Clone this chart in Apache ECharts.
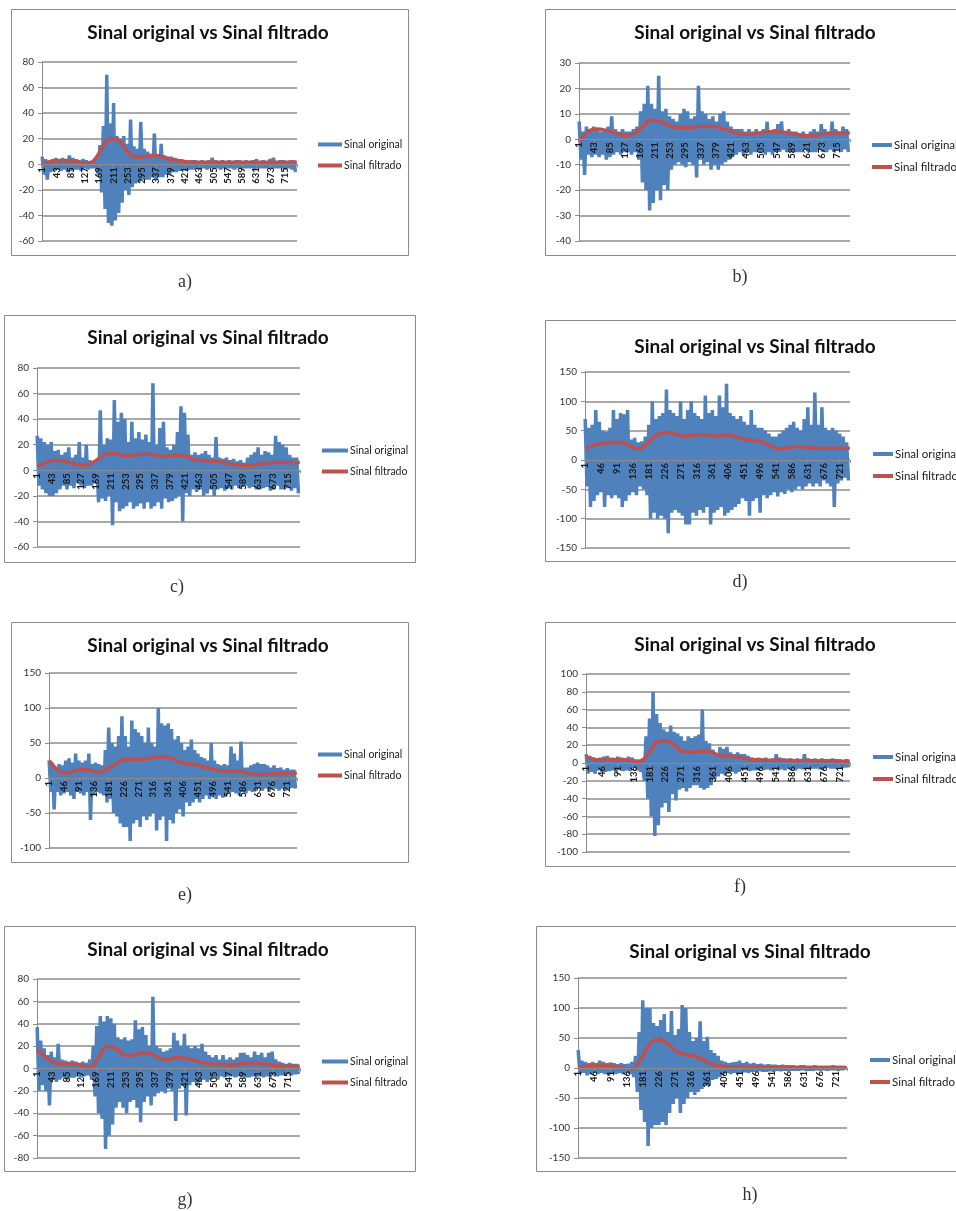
<!DOCTYPE html>
<html>
<head>
<meta charset="utf-8">
<title>Sinal original vs Sinal filtrado</title>
<script src="https://cdn.jsdelivr.net/npm/echarts/dist/echarts.min.js"></script>
<style>
  html, body { margin: 0; padding: 0; background: #ffffff; }
  #chart { width: 956px; height: 1211px; }
</style>
</head>
<body>
<div id="chart"></div>
<script>
// Sample numbers on the x axis (1..750) and the labels shown on it
const N_SAMPLES = 750;
const sampleNumbers = Array.from({ length: N_SAMPLES }, (_, i) => String(i + 1));
const ticksStep42 = [1, 43, 85, 127, 169, 211, 253, 295, 337, 379, 421, 463, 505, 547, 589, 631, 673, 715];
const ticksStep45 = [1, 46, 91, 136, 181, 226, 271, 316, 361, 406, 451, 496, 541, 586, 631, 676, 721];

// Raw signal: one reading every 5 samples
const ORIG_STEP = 5;
// Filtered signal: one reading every 25 samples
const FILT_STEP = 25;

const SERIES_ORIG = 'Sinal original';
const SERIES_FILT = 'Sinal filtrado';

// ---- a) ----
const origA = [
  6, -8, 4, -12, 3, -6, 4, -5, 5, -4,
  4, -5, 5, -4, 3, -6, 7, -5, 5, -4,
  4, -4, 3, -5, 4, -3, 3, -4, 2, -3,
  3, -3, 5, -8, 15, -22, 30, -35, 70, -46,
  32, -48, 48, -44, 22, -38, 20, -30, 22, -20,
  16, -24, 35, -18, 14, -15, 12, -14, 33, -12,
  12, -12, 10, -12, 8, -10, 24, -12, 8, -10,
  16, -10, 7, -8, 6, -8, 6, -6, 5, -6,
  4, -5, 4, -4, 3, -5, 3, -4, 3, -4,
  3, -3, 2, -4, 3, -3, 2, -4, 3, -3,
  5, -3, 3, -3, 2, -4, 3, -3, 2, -3,
  3, -3, 2, -4, 3, -3, 3, -3, 2, -3,
  3, -3, 2, -3, 3, -4, 4, -3, 2, -3,
  3, -3, 2, -3, 4, -3, 5, -3, 2, -3,
  3, -3, 3, -4, 2, -3, 3, -4, 3, -6
];
const filtA = [0, 2, 3, 3, 2.5, 1, 2.5, 12, 20, 19, 10, 5.5, 6, 7, 6, 4, 3, 2, 1.5, 1.5, 1.5, 1.5, 1.5, 1.5, 1.5, 1.5, 1.5, 1.5, 1.5, 1.5, 1.5];

// ---- b) ----
const origB = [
  7, -8, 3, -14, 5, -6, 4, -7, 5, -6,
  4, -7, 3, -6, 4, -8, 5, -7, 9, -6,
  4, -5, 3, -6, 4, -5, 3, -5, 3, -6,
  4, -5, 5, -8, 11, -17, 14, -20, 21, -28,
  14, -25, 12, -20, 25, -24, 11, -18, 12, -20,
  9, -12, 8, -10, 7, -9, 10, -10, 12, -11,
  11, -9, 8, -10, 9, -15, 21, -8, 11, -10,
  10, -9, 8, -12, 9, -10, 7, -12, 10, -10,
  11, -9, 7, -8, 5, -7, 4, -6, 4, -5,
  4, -6, 3, -5, 4, -6, 3, -5, 4, -5,
  3, -5, 4, -6, 7, -5, 3, -6, 4, -5,
  6, -5, 7, -4, 3, -5, 4, -5, 3, -5,
  3, -5, 2, -5, 3, -4, 2, -5, 3, -5,
  4, -5, 3, -4, 6, -5, 4, -5, 3, -4,
  7, -5, 4, -4, 3, -5, 5, -4, 4, -5
];
const filtB = [-1, 3, 4, 3.5, 2.5, 1.5, 2, 5, 7.5, 7, 5.5, 4.5, 4.5, 5, 5, 5, 4, 3, 2, 2, 2.5, 3, 3, 2.5, 2, 1.5, 1.5, 2, 2.5, 2.5, 2.5];

// ---- c) ----
const origC = [
  27, -12, 25, -15, 22, -18, 20, -20, 22, -20,
  15, -18, 16, -15, 12, -12, 14, -15, 18, -12,
  10, -14, 12, -10, 22, -12, 10, -14, 20, -12,
  8, -12, 7, -10, 8, -25, 47, -22, 20, -24,
  25, -20, 24, -43, 55, -25, 38, -32, 45, -30,
  40, -28, 22, -25, 38, -30, 25, -28, 30, -26,
  24, -30, 28, -25, 22, -30, 68, -28, 20, -25,
  33, -30, 38, -22, 18, -25, 16, -24, 20, -22,
  30, -20, 50, -40, 45, -18, 28, -20, 12, -15,
  14, -17, 12, -15, 13, -20, 15, -18, 12, -15,
  10, -20, 26, -15, 10, -14, 9, -16, 10, -14,
  8, -15, 9, -12, 7, -14, 8, -13, 6, -12,
  10, -14, 12, -13, 14, -15, 18, -15, 12, -14,
  15, -13, 14, -16, 12, -15, 27, -12, 22, -15,
  20, -15, 18, -14, 12, -16, 10, -14, 10, -18
];
const filtC = [3, 6, 8, 7, 5.5, 4, 5, 9, 13, 13, 11, 12, 12.5, 12.5, 11, 11, 12, 11, 8, 7.5, 7, 6.5, 5, 4, 4, 4.5, 5.5, 6, 6, 6, 6];

// ---- d) ----
const origD = [
  70, -45, 55, -80, 60, -70, 85, -60, 65, -55,
  50, -80, 48, -60, 55, -65, 85, -60, 70, -65,
  80, -80, 78, -70, 85, -60, 35, -55, 38, -60,
  30, -45, 32, -50, 40, -60, 60, -100, 100, -90,
  70, -100, 75, -95, 80, -100, 120, -125, 85, -90,
  80, -85, 75, -90, 100, -95, 70, -110, 85, -110,
  100, -90, 80, -95, 75, -85, 70, -90, 110, -80,
  80, -110, 85, -90, 75, -85, 110, -80, 90, -95,
  130, -90, 80, -85, 75, -80, 70, -75, 75, -65,
  65, -70, 60, -95, 85, -70, 60, -65, 55, -90,
  55, -60, 50, -65, 45, -60, 40, -55, 40, -62,
  45, -55, 50, -58, 55, -50, 60, -55, 65, -50,
  55, -45, 50, -50, 70, -45, 90, -40, 60, -45,
  115, -40, 60, -45, 90, -35, 55, -40, 50, -45,
  55, -80, 50, -40, 45, -35, 40, -30, 30, -35
];
const filtD = [20, 25, 29, 30, 30, 25, 19, 28, 42, 47, 45, 41, 42, 43, 43, 41, 43, 40, 35, 33, 31, 24, 19, 21, 23, 22, 20, 20, 20, 20, 20];

// ---- e) ----
const origE = [
  25, -20, 22, -45, 15, -20, 20, -25, 18, -22,
  25, -20, 28, -25, 22, -30, 35, -20, 25, -22,
  22, -25, 25, -20, 35, -60, 20, -25, 22, -20,
  20, -22, 18, -25, 40, -35, 72, -30, 50, -50,
  45, -55, 60, -65, 88, -70, 60, -70, 45, -90,
  82, -65, 70, -60, 65, -70, 60, -55, 50, -60,
  72, -55, 50, -50, 45, -75, 100, -60, 78, -55,
  75, -90, 78, -60, 70, -65, 55, -50, 60, -45,
  50, -55, 40, -35, 45, -40, 55, -35, 40, -30,
  35, -35, 30, -30, 28, -25, 25, -30, 50, -25,
  25, -30, 20, -25, 18, -28, 20, -25, 18, -22,
  45, -20, 35, -22, 25, -25, 52, -20, 15, -22,
  15, -18, 18, -20, 20, -18, 22, -15, 20, -18,
  20, -15, 18, -20, 15, -15, 18, -15, 14, -18,
  15, -15, 12, -18, 14, -15, 12, -14, 12, -15
];
const filtE = [25, 12, 7, 10, 12, 11, 8, 13, 20, 26, 27, 26, 28, 30, 30, 27, 22, 20, 18, 15, 12, 10, 10, 10, 7, 5, 5, 6, 6, 7, 7];

// ---- f) ----
const origF = [
  10, -12, 8, -10, 6, -12, 5, -8, 6, -10,
  7, -10, 8, -9, 6, -8, 5, -10, 7, -8,
  6, -9, 5, -8, 7, -9, 6, -5, 4, -8,
  4, -10, 5, -20, 30, -40, 50, -60, 80, -82,
  55, -70, 45, -50, 38, -45, 35, -55, 42, -35,
  35, -42, 33, -30, 30, -28, 25, -32, 30, -28,
  28, -25, 30, -25, 32, -28, 60, -30, 25, -28,
  22, -25, 15, -18, 10, -15, 18, -12, 16, -14,
  18, -12, 12, -10, 10, -12, 12, -10, 10, -8,
  10, -8, 8, -9, 6, -8, 5, -8, 6, -7,
  5, -8, 6, -7, 4, -8, 5, -6, 10, -8,
  6, -7, 5, -8, 4, -6, 5, -7, 4, -8,
  5, -6, 4, -7, 10, -6, 5, -7, 4, -6,
  5, -6, 4, -7, 5, -6, 4, -5, 4, -6,
  5, -6, 4, -5, 4, -6, 3, -5, 4, -5
];
const filtF = [7, 4, 3, 4, 4, 3, 1, 10, 23, 25, 20, 13, 12, 13, 13, 9, 8, 7, 5, 4, 3, 3, 3, 3, 2.5, 3, 2.5, 2.5, 2.5, 2, 2];

// ---- g) ----
const origG = [
  37, -20, 25, -15, 18, -20, 12, -33, 15, -10,
  10, -12, 22, -10, 8, -8, 7, -10, 6, -8,
  7, -8, 6, -7, 5, -8, 6, -7, 5, -6,
  8, -10, 20, -25, 38, -40, 47, -45, 42, -72,
  47, -60, 45, -50, 40, -35, 28, -30, 26, -35,
  28, -40, 25, -30, 26, -28, 43, -35, 35, -48,
  37, -30, 30, -25, 20, -33, 64, -25, 20, -22,
  18, -20, 15, -22, 16, -18, 18, -20, 32, -47,
  25, -18, 20, -15, 31, -42, 20, -15, 18, -12,
  20, -15, 18, -12, 22, -10, 15, -12, 12, -10,
  10, -8, 12, -10, 8, -7, 12, -8, 8, -7,
  10, -7, 8, -8, 10, -7, 14, -8, 14, -8,
  12, -8, 10, -7, 15, -8, 12, -7, 14, -8,
  10, -7, 14, -8, 15, -6, 8, -7, 6, -6,
  5, -6, 4, -5, 5, -6, 4, -5, 4, -5
];
const filtG = [17, 10, 5, 4, 4, 3, 1, 10, 20, 18, 12, 12, 14, 13, 9, 8, 10, 9, 7, 5, 4, 3.5, 3, 4, 5, 5, 4, 3, 2, 2, 2];

// ---- h) ----
const origH = [
  30, -10, 12, -8, 10, -12, 8, -10, 10, -8,
  8, -10, 12, -8, 10, -10, 8, -12, 9, -8,
  8, -10, 6, -8, 8, -10, 6, -8, 7, -10,
  10, -15, 20, -40, 60, -70, 113, -90, 100, -130,
  100, -100, 75, -95, 70, -95, 80, -90, 90, -95,
  60, -75, 95, -60, 55, -50, 65, -75, 105, -60,
  100, -50, 60, -40, 45, -45, 50, -40, 78, -35,
  45, -30, 52, -30, 30, -20, 25, -18, 20, -15,
  12, -10, 10, -8, 8, -10, 9, -8, 10, -8,
  12, -8, 8, -7, 10, -8, 7, -6, 8, -6,
  6, -5, 7, -6, 5, -6, 6, -5, 5, -6,
  5, -4, 4, -5, 5, -4, 4, -5, 4, -4,
  4, -4, 3, -4, 4, -3, 4, -4, 3, -4,
  3, -4, 4, -3, 3, -4, 3, -3, 3, -4,
  3, -3, 4, -3, 3, -4, 3, -3, 3, -3
];
const filtH = [1, 3, 5, 4, 3, 0, -2, 15, 40, 48, 40, 28, 22, 20, 13, 6, 3, 2, 1.5, 1, 1, 1, 0.5, 0.5, 0.5, 0.5, 0.5, 0.5, 0.5, 0.5, 0.5];

// Layout of the eight panels (pixel positions on the page)
const panels = [
  { orig: origA, filt: filtA, ticks: ticksStep42, y: [-60, 80, 20], grid: [42, 62, 255, 179],
    box: [11, 9, 408, 255], title: [208, 33], legend: [313, 134], legendFont: 10.5, legendIcon: 24,
    caption: ['a)', 185, 282] },
  { orig: origB, filt: filtB, ticks: ticksStep42, y: [-40, 30, 10], grid: [579, 63, 271, 178],
    box: [545, 9, 962, 255], title: [755, 33], legend: [867, 134], legendFont: 11.5, legendIcon: 20,
    caption: ['b)', 740, 277] },
  { orig: origC, filt: filtC, ticks: ticksStep42, y: [-60, 80, 20], grid: [37, 368, 263, 179],
    box: [4, 315, 415, 562], title: [208, 338], legend: [317, 440], legendFont: 10.5, legendIcon: 26,
    caption: ['c)', 177, 587] },
  { orig: origD, filt: filtD, ticks: ticksStep45, y: [-150, 150, 50], grid: [585, 372, 265, 176],
    box: [545, 320, 962, 561], title: [755, 347], legend: [868, 443], legendFont: 11.5, legendIcon: 20,
    caption: ['d)', 740, 582] },
  { orig: origE, filt: filtE, ticks: ticksStep45, y: [-100, 150, 50], grid: [49, 673, 248, 175],
    box: [11, 622, 408, 862], title: [208, 646], legend: [313, 744], legendFont: 10.5, legendIcon: 24,
    caption: ['e)', 185, 895] },
  { orig: origF, filt: filtF, ticks: ticksStep45, y: [-100, 100, 20], grid: [586, 674, 264, 178],
    box: [545, 622, 962, 866], title: [755, 645], legend: [868, 746], legendFont: 11.5, legendIcon: 20,
    caption: ['f)', 740, 887] },
  { orig: origG, filt: filtG, ticks: ticksStep42, y: [-80, 80, 20], grid: [37, 979, 263, 179],
    box: [4, 926, 415, 1171], title: [208, 950], legend: [317, 1051], legendFont: 10.5, legendIcon: 26,
    caption: ['g)', 185, 1200] },
  { orig: origH, filt: filtH, ticks: ticksStep45, y: [-150, 150, 50], grid: [578, 978, 269, 180],
    box: [536, 926, 962, 1171], title: [750, 952], legend: [865, 1049], legendFont: 11.5, legendIcon: 20,
    caption: ['h)', 750, 1195] }
];

const BLUE = '#4F81BD';
const RED = '#C0504D';
const GRID_GRAY = '#8c8c8c';
const SANS = 'Lato, "Open Sans", "Liberation Sans", sans-serif';
const SERIF = '"Liberation Serif", "DejaVu Serif", serif';

const grids = [], xAxes = [], yAxes = [], series = [], legends = [], graphics = [];

panels.forEach((p, k) => {
  const [gl, gt, gw, gh] = p.grid;
  grids.push({ left: gl, top: gt, width: gw, height: gh, containLabel: false });

  const shown = new Set(p.ticks.map(String));
  const showTick = (idx, val) => shown.has(val);
  // the category axis sits on the value 0 line, with its labels hanging below it
  const zeroLift = -gh * (0 - p.y[0]) / (p.y[1] - p.y[0]);

  xAxes.push({
    type: 'category', gridIndex: k, data: sampleNumbers, boundaryGap: true, z: 5,
    position: 'bottom', offset: zeroLift,
    axisLine: { onZero: false, lineStyle: { color: GRID_GRAY, width: 1 } },
    axisTick: { show: true, interval: showTick, length: 3, lineStyle: { color: GRID_GRAY } },
    axisLabel: { interval: showTick, rotate: 90, fontSize: 9.5, color: '#1a1a1a', margin: 3,
                 fontFamily: SANS, fontWeight: 'bold' },
    splitLine: { show: false }
  });

  yAxes.push({
    type: 'value', gridIndex: k, min: p.y[0], max: p.y[1], interval: p.y[2],
    axisLine: { show: true, lineStyle: { color: GRID_GRAY, width: 1 } },
    axisTick: { show: true, length: 4, lineStyle: { color: GRID_GRAY } },
    axisLabel: { fontSize: 10, color: '#333', margin: 8, fontFamily: SANS },
    splitLine: { show: true, lineStyle: { color: GRID_GRAY, width: 1.6 } }
  });

  series.push({
    name: SERIES_ORIG, type: 'line', xAxisIndex: k, yAxisIndex: k,
    data: p.orig.map((v, i) => [i * ORIG_STEP, v]),
    showSymbol: false, symbol: 'none', animation: false, z: 2,
    lineStyle: { color: BLUE, width: 3.5 }, itemStyle: { color: BLUE }
  });
  series.push({
    name: SERIES_FILT, type: 'line', xAxisIndex: k, yAxisIndex: k,
    data: p.filt.map((v, i) => [Math.min(i * FILT_STEP, N_SAMPLES - 1), v]),
    showSymbol: false, symbol: 'none', smooth: 0.4, animation: false, z: 3,
    lineStyle: { color: RED, width: 3.5 }, itemStyle: { color: RED }
  });

  legends.push({
    orient: 'vertical', left: p.legend[0], top: p.legend[1],
    itemWidth: p.legendIcon, itemHeight: 4, itemGap: 10, icon: 'rect', selectedMode: false,
    data: [SERIES_ORIG, SERIES_FILT],
    textStyle: { fontSize: p.legendFont, color: '#222', fontFamily: SANS, padding: [0, 0, 0, -3] }
  });

  // panel frame
  graphics.push({
    type: 'rect', silent: true, z: -1,
    shape: { x: p.box[0] + 0.5, y: p.box[1] + 0.5, width: p.box[2] - p.box[0], height: p.box[3] - p.box[1] },
    style: { fill: '#ffffff', stroke: '#8a8a8a', lineWidth: 1 }
  });
  // chart title
  graphics.push({
    type: 'text', silent: true, z: 10, x: p.title[0], y: p.title[1],
    style: { text: 'Sinal original vs Sinal filtrado', font: 'bold 19px ' + SANS,
             fill: '#111', textAlign: 'center', textVerticalAlign: 'middle' }
  });
  // panel letter
  graphics.push({
    type: 'text', silent: true, z: 10, x: p.caption[1], y: p.caption[2],
    style: { text: p.caption[0], font: '18px ' + SERIF, fill: '#333',
             textAlign: 'center', textVerticalAlign: 'middle' }
  });
});

const chart = echarts.init(document.getElementById('chart'), null, { renderer: 'canvas' });
chart.setOption({
  backgroundColor: '#ffffff',
  animation: false,
  grid: grids,
  xAxis: xAxes,
  yAxis: yAxes,
  legend: legends,
  series: series,
  graphic: { elements: graphics }
});
</script>
</body>
</html>
